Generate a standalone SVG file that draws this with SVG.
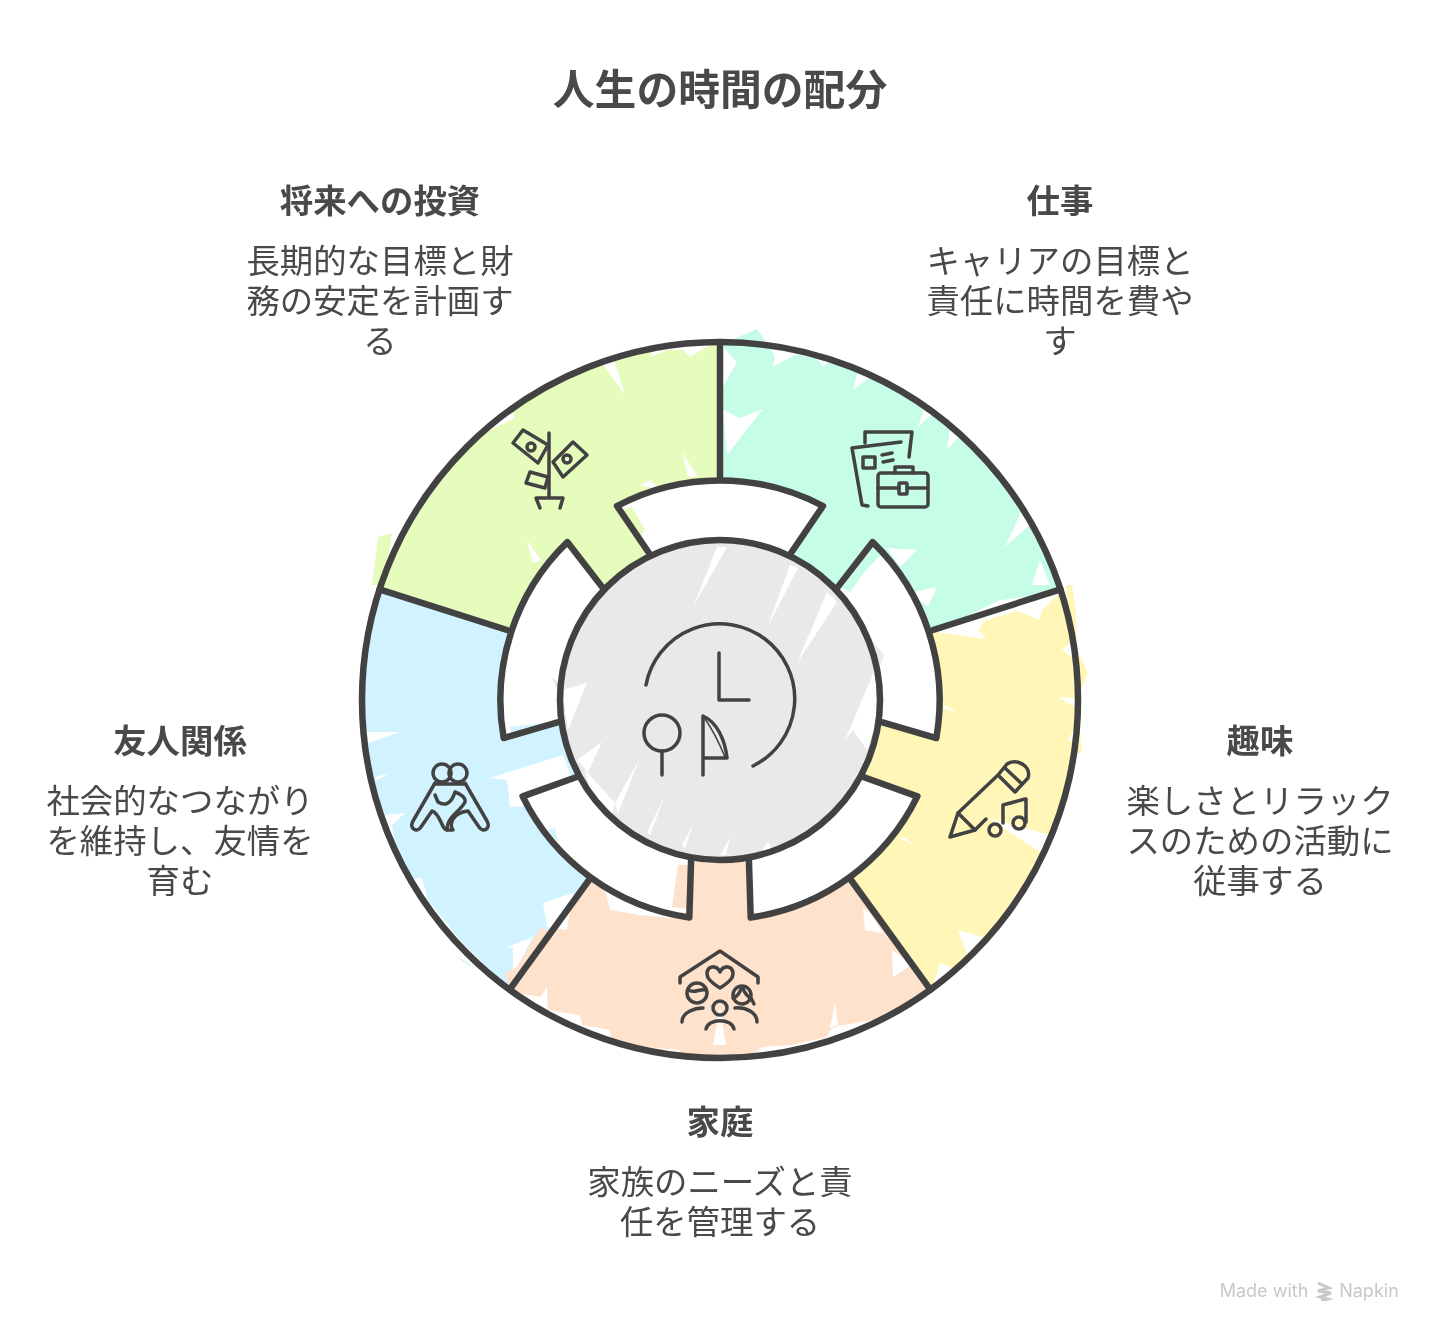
<svg xmlns="http://www.w3.org/2000/svg" width="1440" height="1337" viewBox="0 0 1440 1337">
<style>
text{font-family:"Noto Sans CJK JP","Noto Sans",sans-serif;fill:#484848;text-anchor:middle}
.t{font-size:41.8px;font-weight:700}
.h{font-size:33.4px;font-weight:700}
.b{font-size:33.4px;font-weight:400}
.w{fill:#fff}
.mint{fill:#c5fde6}.yel{fill:#fff6b8}.pea{fill:#ffe2cb}.blu{fill:#d1f3ff}.gre{fill:#e5fcbc}.gry{fill:#e9e9e9}
.ln{fill:none;stroke:#434343;stroke-width:6.5;stroke-linejoin:round;stroke-linecap:round}
.ic{fill:none;stroke:#434343;stroke-width:3.5;stroke-linejoin:round;stroke-linecap:round}
</style>
<defs>
<path id="seg" d="M651,556 L617,506 A220,220 0 0 1 823,506 L789,556"/>
<filter id="soft" x="0" y="0" width="100%" height="100%"><feGaussianBlur stdDeviation="0.55"/></filter>
</defs>
<rect width="1440" height="1337" fill="#fff"/>
<g filter="url(#soft)">
<g id="title"><text class="t" x="720" y="105">人生の時間の配分</text></g>

<g id="node-work">
<path class="mint" d="M720,700 L720,342 A358,358 0 0 1 1060.5,589.4 Z"/>
<polygon class="mint" points="726,342 757,329 765,341"/>
<g class="w"><polygon points="723,347 737,362 723,387"/><polygon points="723,410 740,418 763,409 727,455"/>
<polygon points="767,342 775,357 773,367 795,355 815,357 823,367 838,353 826,345 790,335"/>
<polygon points="853,390 872,376 858,370"/><polygon points="918,427 933,413 925,405"/><polygon points="947,450 960,436 950,428"/>
<polygon points="887,548 917,550 900,567"/><polygon points="910,593 937,587 928,607"/><polygon points="1005,547 1030,525 1022,510"/><polygon points="1032,585 1040,560 1050,585"/></g>
<g class="ic"><path d="M865,443 L865,432 L912,432 L909,457"/><path d="M901,442 L852,448 L862,505 L868,506"/><rect x="863" y="457" width="12" height="11"/><path d="M882,455 L892,453 M883,462 L893,460"/><rect x="878" y="473" width="50" height="34" rx="3"/><path d="M895,473 V467 H913 V473"/><path d="M878,488 H899 M907,488 H928"/><rect x="899" y="483" width="8" height="11" rx="1"/></g>
<text class="h" x="1060" y="213">仕事</text>
<text class="b" x="1060" y="273">キャリアの目標と</text><text class="b" x="1060" y="313">責任に時間を費や</text><text class="b" x="1060" y="353">す</text>
</g>

<g id="node-hobby">
<path class="yel" d="M720,700 L1060.5,589.4 A358,358 0 0 1 930.4,989.6 Z"/>
<polygon class="yel" points="1066,585 1072,585 1076,612 1077,650 1088,673 1081,690 1079,720 1082,752 1075,755"/>
<g class="w"><polygon points="935,632 987,639 978,630 986,620 1017,611 1040,620 1042,610 1060,593 1000,600"/><polygon points="1062,650 1070,643 1075,660"/><polygon points="1058,697 1075,707 1075,698"/><polygon points="1068,740 1075,727 1075,743"/>
<polygon points="988,818 1040,852 1050,835"/><polygon points="943,708 958,713 945,705"/><polygon points="897,837 917,847 905,838"/><polygon points="958,930 983,937 968,957"/><polygon points="933,985 940,963 953,968"/></g>
<g class="ic"><path d="M950,837 L958,813 L975,830 Z"/><path d="M958,813 L998,775 L1007,764 C1015,758 1032,765 1028,778 L1015,792 L998,775"/><path d="M1005,768 L1022,784"/><path d="M975,830 L986,819"/><path d="M1003,823 V805 L1025,799 H1026 V822"/><circle cx="995" cy="830" r="6"/><circle cx="1019" cy="823" r="6"/></g>
<text class="h" x="1260" y="753">趣味</text>
<text class="b" x="1260" y="813">楽しさとリラック</text><text class="b" x="1260" y="853">スのための活動に</text><text class="b" x="1260" y="893">従事する</text>
</g>

<g id="node-family">
<path class="pea" d="M720,700 L930.4,989.6 A358,358 0 0 1 509.6,989.6 Z"/>
<polygon class="pea" points="778,1056 826,1042 828,1052 782,1058"/>
<g class="w"><polygon points="892,950 893,977 912,965"/><polygon points="863,908 865,930 883,933 870,913"/>
<polygon points="830,1030 838,1026 873,1020 893,1023 925,993 935,1000 880,1040 820,1052"/><polygon points="830,1028 835,1003 838,1025"/><polygon points="750,1056 762,1047 792,1045 827,1037 840,1050 790,1062"/>
<polygon points="592,880 605,890 610,910 640,915 690,920 640,900"/>
<polygon points="512,992 540,997 547,987 548,1010 580,1015 582,1025 610,1030 612,1043 645,1047 680,1050 680,1062 600,1055 530,1020"/>
<polygon points="713,1045 720,1008 726,1045"/></g>
<g class="ic"><path d="M680,983 L680,977 L720,951 L758,977 L758,983"/><path d="M720,972 C716,964 707,966 707,974 C707,980 715,985 720,988 C725,985 733,980 733,974 C733,966 724,964 720,972 Z"/><circle cx="697" cy="993" r="10"/><path d="M688,990 C695,994 700,988 706,990"/><circle cx="742" cy="995" r="9"/><path d="M733,998 C740,996 740,990 742,987 C744,990 745,996 751,998 L754,1004"/><circle cx="720" cy="1008" r="7"/><path d="M682,1022 C682,1012 695,1008 703,1008 M757,1022 C757,1012 745,1007 735,1008 M706,1029 C708,1018 732,1018 734,1029"/></g>
<text class="h" x="720" y="1134">家庭</text>
<text class="b" x="720" y="1194">家族のニーズと責</text><text class="b" x="720" y="1234">任を管理する</text>
</g>

<g id="node-friends">
<path class="blu" d="M720,700 L509.6,989.6 A358,358 0 0 1 379.5,589.4 Z"/>
<polygon class="blu" points="458,948 475,960 470,966 458,958"/>
<g class="w"><polygon points="367,732 400,732 368,743"/><polygon points="375,777 390,773 377,780"/>
<polygon points="385,815 405,813 392,825 397,860 403,880 422,878 428,900 460,940 505,985 440,946 390,880"/>
<polygon points="490,778 563,755 580,800 525,795 530,806 510,807 507,780"/>
<polygon points="543,903 573,893 567,930 547,927"/><polygon points="507,947 533,937 517,967 513,972 513,948"/></g>
<polygon class="pea" points="540,928 555,932 510,990 505,973 517,967"/>
<g class="ic"><circle cx="442" cy="773" r="9"/><circle cx="458" cy="773" r="9"/><path d="M435,784 H465"/><path d="M435,783 L413,821 C409,829 417,833 421,827 L432,811 C440,813 442,830 447,830 C452,830 452,830 453,830 C449,824 452,813 468,811 L479,827 C483,833 491,829 487,821 L465,783"/><path d="M435,795 L438,802 C444,806 451,805 455,792 C461,794 466,798 465,802 C460,812 447,816 447,830"/></g>
<text class="h" x="180" y="753">友人関係</text>
<text class="b" x="180" y="813">社会的なつながり</text><text class="b" x="180" y="853">を維持し、友情を</text><text class="b" x="180" y="893">育む</text>
</g>

<g id="node-invest">
<path class="gre" d="M720,700 L379.5,589.4 A358,358 0 0 1 720,342 Z"/>
<polygon class="gre" points="378,537 392,533 385,585 372,585"/>
<g class="w"><polygon points="602,363 615,362 625,395"/><polygon points="650,357 667,350 683,350 690,357 710,345 660,338"/><polygon points="480,435 515,418 512,410 470,425"/><polygon points="682,452 698,477 688,477"/><polygon points="640,485 650,480 660,490"/><polygon points="527,540 541,560 533,563"/></g>
<g class="ic"><path d="M549,433 V497"/><path d="M540,508 L536,498 H563 L560,508"/><path d="M513,443 L523,430 L548,445 L538,463 Z"/><circle cx="531" cy="447" r="4"/><path d="M553,462 L573,442 L587,455 L563,477 Z"/><circle cx="567" cy="459" r="4"/><path d="M530,472 L548,477 L545,488 L526,483 Z"/></g>
<text class="h" x="380" y="213">将来への投資</text>
<text class="b" x="380" y="273">長期的な目標と財</text><text class="b" x="380" y="313">務の安定を計画す</text><text class="b" x="380" y="353">る</text>
</g>

<g id="ring">
<g class="w">
<use href="#seg"/>
<use href="#seg" transform="rotate(72 720 700)"/>
<use href="#seg" transform="rotate(144 720 700)"/>
<use href="#seg" transform="rotate(216 720 700)"/>
<use href="#seg" transform="rotate(288 720 700)"/>
</g>
<polygon class="gre" points="622,510 632,507 645,530 640,536"/>
<polygon class="mint" points="842,588 872,548 885,551 866,570 850,592"/>
<polygon class="pea" points="678,865 688,865 688,909 672,907"/>
<polygon class="blu" points="510,727 552,722 555,727 512,737"/>
<polygon class="blu" points="548,830 555,828 558,842"/>
<g class="ln">
<use href="#seg"/>
<use href="#seg" transform="rotate(72 720 700)"/>
<use href="#seg" transform="rotate(144 720 700)"/>
<use href="#seg" transform="rotate(216 720 700)"/>
<use href="#seg" transform="rotate(288 720 700)"/>
</g>
</g>

<g id="dividers" class="ln">
<path d="M720,342 V478"/>
<path d="M1060.5,589.4 L933,630"/>
<path d="M930.4,989.6 L851,880"/>
<path d="M509.6,989.6 L589,880"/>
<path d="M379.5,589.4 L507,630"/>
</g>

<g id="outer"><circle class="ln" cx="720" cy="700" r="358"/></g>

<g id="node-center">
<polygon class="gry" points="552,678 570,690 562,700"/>
<polygon class="gry" points="855,620 884,655 878,670"/>
<circle class="gry" cx="720" cy="700" r="160"/>
<g class="w"><polygon points="717,547 727,547 693,607"/><polygon points="790,565 798,568 767,628"/><polygon points="827,592 837,602 797,663"/>
<polygon points="878,662 878,717 867,750 853,730 845,740"/><polygon points="587,683 568,730 562,690"/><polygon points="602,742 588,772 577,760"/><polygon points="640,758 615,803 618,813"/><polygon points="585,770 615,803 612,815 590,790"/><polygon points="665,795 647,832 650,835"/><polygon points="693,825 682,845 685,848"/><polygon points="740,820 720,855 726,855 730,838"/><polygon points="768,842 760,853 772,850"/></g>
<circle class="ln" cx="720" cy="700" r="160"/>
<g class="ic"><path d="M646,685 A75,75 0 1 1 753,766"/><path d="M719,653 V700 H749"/><circle cx="662" cy="733" r="18"/><path d="M662,752 V775"/><path d="M703,775 V716 C717,722 725,740 727,758 H703"/><path d="M705,719 C713,730 720,745 725,757" style="stroke-width:1.5"/></g>
</g>

<g id="watermark">
<text x="1264" y="1297" style="font-family:Inter,sans-serif;font-size:18px;fill:#c8c8c8">Made with</text>
<path d="M1318,1283 L1329,1288 L1318,1291 L1331,1293 L1320,1297 L1328,1299 L1321,1301" fill="none" stroke="#c8c8c8" stroke-width="3"/>
<text x="1369" y="1297" style="font-family:Inter,sans-serif;font-size:18px;fill:#c8c8c8">Napkin</text>
</g>
</g>
</svg>
